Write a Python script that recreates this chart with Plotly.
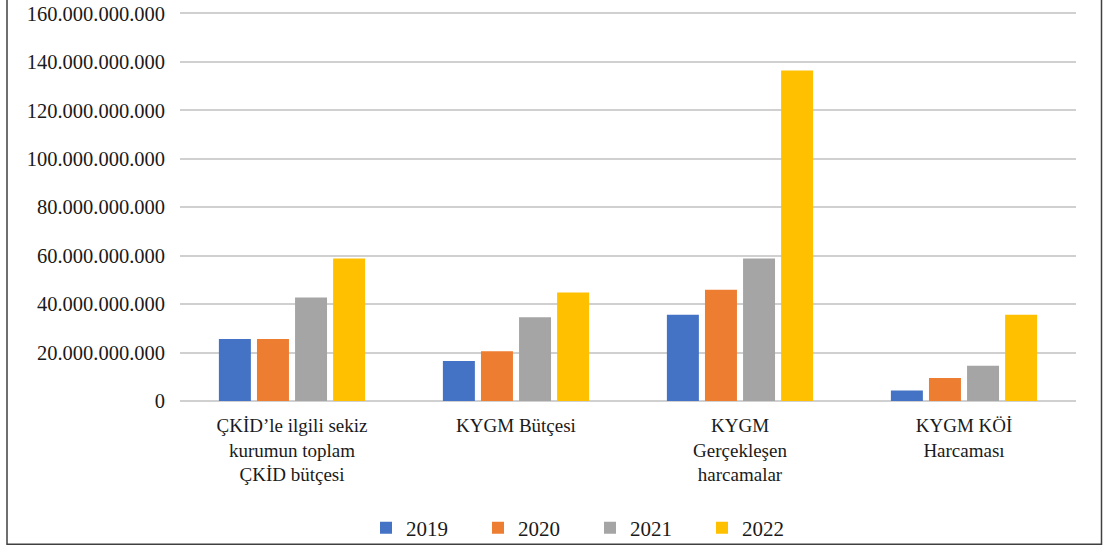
import plotly.graph_objects as go

categories = [
    "ÇKİD’le ilgili sekiz<br>kurumun toplam<br>ÇKİD bütçesi",
    "KYGM Bütçesi",
    "KYGM<br>Gerçekleşen<br>harcamalar",
    "KYGM KÖİ<br>Harcaması",
]
years = ["2019", "2020", "2021", "2022"]
values_2019 = [25.6e9, 16.5e9, 35.6e9, 4.3e9]
values_2020 = [25.6e9, 20.5e9, 45.9e9, 9.5e9]
values_2021 = [42.7e9, 34.6e9, 58.8e9, 14.6e9]
values_2022 = [58.8e9, 44.8e9, 136.4e9, 35.6e9]
colors = ["#4472C4", "#ED7D31", "#A5A5A5", "#FFC000"]
tick_values = [0, 20e9, 40e9, 60e9, 80e9, 100e9, 120e9, 140e9, 160e9]

series = [values_2019, values_2020, values_2021, values_2022]

# body margin is removed via post_script, so figure sits at (0, 0)
W, H = 1108, 549
YMAX = 161e9
scale = (401.5 - 13) / 160e9          # px per unit
top_page = 401.5 - YMAX * scale
ml, mr, mt, mb = 180, 1108 - 1076, top_page, 549 - 401.5
pw, ph = W - ml - mr, H - mt - mb

def px_x(x):  # page x -> paper
    return (x - ml) / pw

def px_y(y):  # page y -> paper
    return (H - mb - y) / ph

fig = go.Figure()
for name, vals, col in zip(years, series, colors):
    fig.add_trace(go.Bar(x=categories, y=vals, name=name,
                         marker=dict(color=col, line=dict(width=0))))

font = "Liberation Serif"
txt = "#1a1a1a"
fig.update_layout(
    width=W, height=H,
    margin=dict(l=ml, r=mr, t=mt, b=mb, autoexpand=False),
    paper_bgcolor="white", plot_bgcolor="white",
    separators=",.",
    barmode="group", bargap=0.32, bargroupgap=0.16,
    font=dict(family=font, size=19, color=txt),
    showlegend=True,
    legend=dict(orientation="h", x=px_x(590), xanchor="center",
                y=px_y(529), yanchor="middle",
                bgcolor="rgba(0,0,0,0)",
                font=dict(family=font, size=21, color=txt),
                entrywidth=67, entrywidthmode="pixels",
                itemwidth=30, traceorder="normal"),
    xaxis=dict(showgrid=False, showline=False, ticks="",
               tickfont=dict(family=font, size=19, color=txt),
               ticklabelstandoff=11),
    yaxis=dict(range=[0, YMAX], tickmode="array", tickvals=tick_values,
               tickformat=",.0f", ticklabeloverflow="allow",
               showgrid=True, gridcolor="#D0D0D0", gridwidth=1.5,
               zeroline=True, zerolinecolor="#D0D0D0", zerolinewidth=1.5,
               showline=False, ticks="", ticklabelstandoff=14,
               tickfont=dict(family=font, size=20.5, color=txt)),
    shapes=[dict(type="rect", xref="paper", yref="paper",
                 x0=px_x(7), x1=px_x(1101.5), y0=px_y(545), y1=px_y(-10),
                 line=dict(color="#404040", width=1.5), layer="below")],
)

fig.write_html(
    "out.html",
    config={"displayModeBar": False},
    post_script="document.body.style.margin='0';document.body.style.overflow='hidden';",
)
